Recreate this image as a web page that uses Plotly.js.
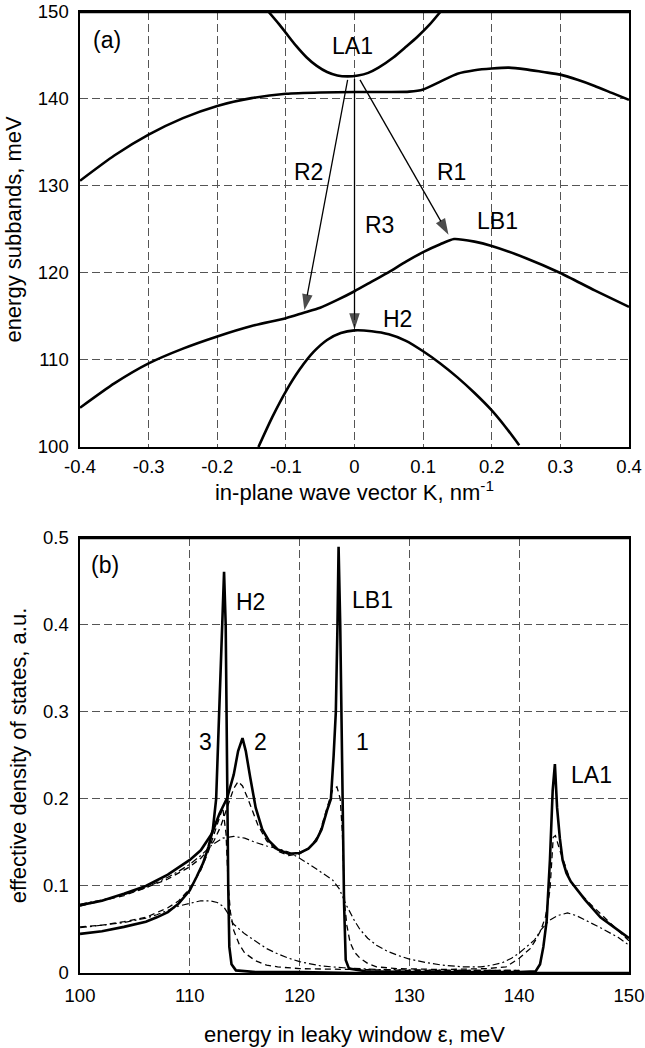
<!DOCTYPE html>
<html><head><meta charset="utf-8">
<script src="https://cdn.plot.ly/plotly-3.0.1.min.js"></script>
<style>body{margin:0;background:#fff}#chart{width:645px;height:1048px}</style>
</head><body><div id="chart"></div>
<script>
// ---------- Panel (a): energy subbands vs in-plane wave vector ----------
const kLA1 = [-0.125,-0.11,-0.1,-0.085,-0.07,-0.055,-0.04,-0.025,-0.01,0.005,0.02,0.035,0.057,0.075,0.091,0.11,0.125];
const eLA1 = [150,148.6,147.6,146.1,144.8,143.8,143.1,142.7,142.6,142.7,143.0,143.6,144.8,146.0,147.1,148.6,150];

const kUpper = [-0.4,-0.35,-0.3,-0.25,-0.2,-0.15,-0.1,-0.05,0,0.05,0.08,0.1,0.125,0.15,0.175,0.2,0.225,0.25,0.275,0.3,0.325,0.35,0.375,0.4];
const eUpper = [130.6,133.5,135.9,137.8,139.2,140.1,140.6,140.75,140.8,140.8,140.85,141.1,142.0,142.9,143.3,143.5,143.6,143.4,143.1,142.8,142.2,141.5,140.7,139.9];

const kLB1 = [-0.4,-0.35,-0.3,-0.25,-0.2,-0.15,-0.1,-0.075,-0.05,-0.025,0,0.025,0.05,0.075,0.1,0.125,0.145,0.175,0.2,0.25,0.3,0.35,0.4];
const eLB1 = [104.5,107.3,109.6,111.3,112.7,113.9,114.8,115.4,116.0,116.9,117.9,119.0,120.1,121.3,122.4,123.3,123.9,123.6,123.1,121.7,120.0,118.0,116.1];

const kH2 = [-0.14,-0.12,-0.1,-0.08,-0.06,-0.04,-0.02,0,0.025,0.05,0.075,0.1,0.125,0.15,0.175,0.2,0.22,0.24];
const eH2 = [100,103.4,106.4,108.9,110.9,112.3,113.1,113.4,113.3,112.95,112.2,111.0,109.6,108.0,106.2,104.2,102.3,100.2];

// transitions R1, R2, R3 (tail -> head)
const arrowNames = ['R1','R2','R3'];
const arrowFromK = [0.008,-0.01,0];
const arrowFromE = [142.2,142.2,142.3];
const arrowToK   = [0.137,-0.073,0];
const arrowToE   = [124.4,115.7,113.5];

const labelsA  = ['(a)','LA1','R2','R1','R3','LB1','H2'];
const labelsAK = [-0.361,-0.003,-0.067,0.142,0.036,0.209,0.062];
const labelsAE = [146.8,146.1,131.6,131.6,125.5,126.0,114.7];

const kTickVals = [-0.4,-0.3,-0.2,-0.1,0,0.1,0.2,0.3,0.4];
const kTickText = ['-0.4','-0.3','-0.2','-0.1','0','0.1','0.2','0.3','0.4'];
const eTickVals = [100,110,120,130,140,150];

// ---------- Panel (b): effective density of states ----------
const eSolidA = [100,102,104,106,108,109,110,111,112,112.7,113.4,114.0,114.4,114.8,115.1,115.5,116.0,116.6,117.2,118.0,119.0,120.0,120.8,121.5,122.0,122.5,122.85,123.1,123.3,123.45,123.55,123.7,123.9,124.05,124.2,124.5,126,130,140,141.5,141.9,142.2,142.5,142.8,143.05,143.25,143.45,143.7,143.95,144.3,144.7,145.3,146.0,147.4,149.0,150];
const dSolidA = [0.078,0.083,0.091,0.100,0.113,0.121,0.130,0.141,0.160,0.183,0.201,0.228,0.255,0.270,0.255,0.225,0.190,0.165,0.152,0.142,0.137,0.138,0.143,0.152,0.165,0.187,0.200,0.250,0.300,0.400,0.490,0.400,0.220,0.080,0.015,0.005,0.002,0.001,0.001,0.002,0.010,0.030,0.060,0.130,0.210,0.240,0.190,0.155,0.130,0.115,0.105,0.095,0.084,0.064,0.049,0.040];

const eSolidB = [100,102,104,106,107,108,109,110,110.6,111.2,111.7,112.1,112.4,112.67,113.0,113.12,113.27,113.33,113.4,113.5,113.6,113.8,114.2,116,120,125,135,150];
const dSolidB = [0.045,0.048,0.053,0.059,0.064,0.070,0.080,0.095,0.110,0.126,0.145,0.165,0.200,0.300,0.400,0.461,0.400,0.300,0.200,0.100,0.030,0.010,0.003,0.001,0.001,0.000,0.000,0.000];

const eDashA = [100,104,106,108,109,110,111,111.6,112.2,112.8,113.4,114.0,114.4,114.8,115.3,116.2,117.0,118.0,119.0,120.0,121.0,121.8,122.5,123.0,123.4,123.7,123.9,124.0,124.1,124.3,124.6,125.0,125.5,126.2,127,129,133,137,138.8,140.0,141.0,141.6,142.0,142.4,142.8,143.1,143.3,143.7,144.1,144.7,145.5,146.5,148,149,150];
const dDashA = [0.077,0.089,0.098,0.108,0.115,0.122,0.132,0.140,0.152,0.168,0.190,0.212,0.220,0.215,0.200,0.170,0.152,0.140,0.135,0.137,0.145,0.160,0.190,0.210,0.214,0.200,0.160,0.120,0.080,0.055,0.035,0.024,0.017,0.011,0.007,0.005,0.004,0.005,0.007,0.017,0.028,0.040,0.050,0.065,0.095,0.156,0.158,0.141,0.126,0.105,0.092,0.079,0.061,0.049,0.037];

const eDashB = [100,102,104,106,108,109,110,111,111.7,112.2,112.7,113.0,113.3,113.5,113.7,114.0,114.5,115.0,116,117,118,120,125,130,140];
const dDashB = [0.053,0.055,0.059,0.064,0.075,0.083,0.097,0.118,0.140,0.160,0.180,0.190,0.160,0.100,0.070,0.049,0.033,0.023,0.014,0.009,0.007,0.005,0.004,0.003,0.003];

const eDotA = [100,102,104,106,107,108,109,110,111,112,113,114,115,116,117,118,119,120,121,122,123,123.6,124.0,124.3,125.0,125.5,126.2,127,128,129,130,131.5,133,135,136.5,137.5,138.5,139.3,140.0,140.8,141.4,142.0,142.7,143.5,144.4,145.2,146.0,147.4,149.0,150];
const dDotA = [0.079,0.084,0.090,0.098,0.104,0.110,0.117,0.125,0.135,0.147,0.155,0.157,0.155,0.150,0.146,0.143,0.139,0.132,0.124,0.116,0.107,0.097,0.086,0.077,0.060,0.050,0.040,0.032,0.025,0.020,0.016,0.012,0.009,0.007,0.007,0.009,0.012,0.017,0.023,0.031,0.038,0.050,0.060,0.066,0.069,0.066,0.061,0.052,0.041,0.032];

const eDotB = [100,104,106,107,108,109,110,111,111.8,112.5,113.1,113.4,113.7,114,115,116,117,118,119,120,122,124,127,135,140];
const dDotB = [0.052,0.058,0.063,0.067,0.072,0.077,0.080,0.083,0.083,0.081,0.076,0.070,0.062,0.056,0.045,0.036,0.028,0.022,0.017,0.013,0.008,0.006,0.004,0.003,0.003];

const labelsB  = ['(b)','H2','LB1','3','2','1','LA1'];
const labelsBE = [102.3,115.5,126.6,111.4,116.4,125.7,146.6];
const labelsBD = [0.469,0.426,0.429,0.265,0.265,0.265,0.228];

const epsTickVals = [100,110,120,130,140,150];
const dosTickVals = [0,0.1,0.2,0.3,0.4,0.5];
const dosTickText = ['0','0.1','0.2','0.3','0.4','0.5'];

// ---------- traces ----------
const FONT = 'Liberation Sans, Arial, sans-serif';
function band(x,y){return {x:x,y:y,xaxis:'x',yaxis:'y',mode:'lines',line:{color:'#000',width:2.6,shape:'spline',smoothing:0.6},hoverinfo:'skip'};}
function dos(x,y,dash,w){return {x:x,y:y,xaxis:'x2',yaxis:'y2',mode:'lines',line:{color:'#000',width:w,dash:dash},hoverinfo:'skip'};}
function arrow(i){
  return {x:[arrowFromK[i],arrowToK[i]], y:[arrowFromE[i],arrowToE[i]], xaxis:'x', yaxis:'y',
    mode:'lines+markers', name:arrowNames[i], line:{color:'#000',width:1.3},
    marker:{symbol:'arrow',angleref:'previous',size:[0,17],color:'#000',line:{width:0}},
    cliponaxis:false, hoverinfo:'skip'};
}

const traces = [
  band(kLA1,eLA1), band(kUpper,eUpper), band(kLB1,eLB1), band(kH2,eH2),
  arrow(0), arrow(1), arrow(2),
  dos(eDotB,dDotB,'7px,3px,2px,3px',1.2),
  dos(eDotA,dDotA,'7px,3px,2px,3px',1.2),
  dos(eDashB,dDashB,'6px,4px',1.3),
  dos(eDashA,dDashA,'6px,4px',1.3),
  dos(eSolidB,dSolidB,'solid',2.6),
  dos(eSolidA,dSolidA,'solid',2.6)
];

const annotations = [];
for (let i=0;i<labelsA.length;i++){
  annotations.push({xref:'x',yref:'y',x:labelsAK[i],y:labelsAE[i],text:labelsA[i],showarrow:false,font:{family:FONT,size:23,color:'#000'}});
}
for (let i=0;i<labelsB.length;i++){
  annotations.push({xref:'x2',yref:'y2',x:labelsBE[i],y:labelsBD[i],text:labelsB[i],showarrow:false,font:{family:FONT,size:23,color:'#000'}});
}

const axisCommon = {
  showline:true, mirror:true, linecolor:'#000', linewidth:1.6,
  showgrid:true, gridcolor:'#555', gridwidth:1, griddash:'8px,4px',
  zeroline:false, ticks:'', tickfont:{family:FONT,size:18.5,color:'#000'},
  tickmode:'array', fixedrange:true, ticklabeloverflow:'allow'
};
const titleFont = {family:FONT,size:22,color:'#000'};

const layout = {
  width:645, height:1048,
  margin:{l:80,r:16,t:12,b:75},
  paper_bgcolor:'#fff', plot_bgcolor:'#fff',
  showlegend:false,
  font:{family:FONT,color:'#000'},
  xaxis: Object.assign({}, axisCommon, {anchor:'y', domain:[0,1], range:[-0.4,0.4], tickvals:kTickVals, ticktext:kTickText, ticklabelstandoff:2,
    title:{text:'in-plane wave vector K, nm<sup>-1</sup>', font:titleFont, standoff:4}}),
  yaxis: Object.assign({}, axisCommon, {anchor:'x', domain:[0.5474,1], range:[100,150], tickvals:eTickVals, ticklabelstandoff:6,
    title:{text:'energy subbands, meV', font:titleFont, standoff:10}}),
  xaxis2: Object.assign({}, axisCommon, {anchor:'y2', domain:[0,1], range:[100,150], tickvals:epsTickVals, ticklabelstandoff:5,
    title:{text:'energy in leaky window ε, meV', font:titleFont, standoff:22}}),
  yaxis2: Object.assign({}, axisCommon, {anchor:'x2', domain:[0,0.4527], range:[0,0.5], tickvals:dosTickVals, ticktext:dosTickText, ticklabelstandoff:6,
    title:{text:'effective density of states, a.u.', font:titleFont, standoff:10}}),
  shapes:[
    {type:'line',xref:'x domain',yref:'y domain',x0:0,x1:1,y0:1,y1:1,line:{color:'#000',width:2.6}},
    {type:'line',xref:'x2 domain',yref:'y2 domain',x0:0,x1:1,y0:1,y1:1,line:{color:'#000',width:2.6}}
  ],
  annotations: annotations
};

Plotly.newPlot('chart', traces, layout, {displayModeBar:false, staticPlot:true});
</script></body></html>
